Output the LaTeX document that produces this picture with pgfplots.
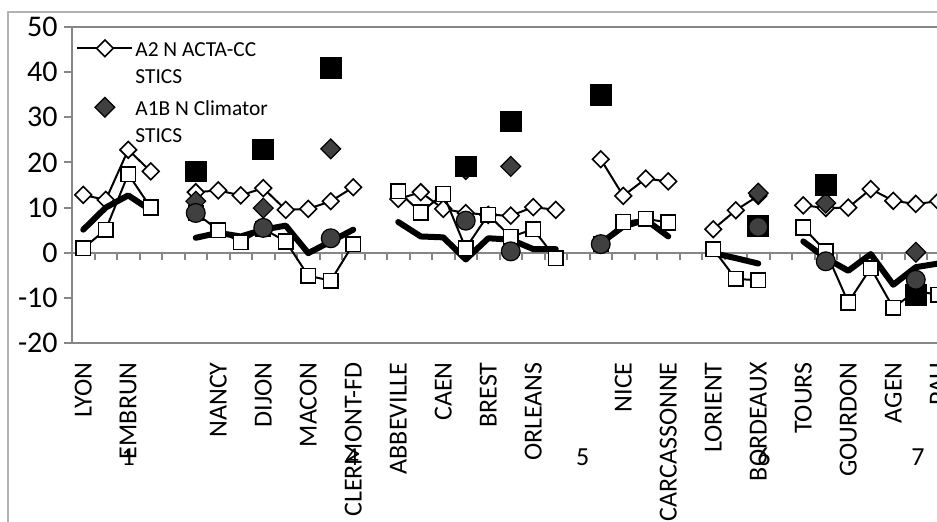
\documentclass[border=0pt]{standalone}
\usepackage{fontspec}
\setmainfont{Carlito}
\usepackage{pgfplots}
\pgfplotsset{compat=1.18}
\definecolor{axisgray}{HTML}{868686}
\definecolor{darkfill}{HTML}{404040}

\pgfplotsset{
  sA/.style={black, line width=1pt, mark=square*, mark size=2.95pt,
    mark options={solid, rotate=45, fill=white, draw=black, line width=0.8pt}},
  sThick/.style={black, line width=3pt, line join=round, line cap=round, mark=none},
  sSq/.style={black, line width=1pt, mark=square*, mark size=3.67pt,
    mark options={solid, fill=white, draw=black, line width=0.8pt}},
  frame/.style={at={(0pt,0pt)}, anchor=south west, scale only axis, width=450pt, height=158pt,
    xmin=-0.5, xmax=39.5, ymin=-20, ymax=50},
}
\newcommand{\yl}[1]{\fontsize{15}{17}\selectfont #1}

\begin{document}
\begin{tikzpicture}
% zero line with tick marks between categories
\begin{axis}[frame,
  axis x line=middle, axis y line=none,
  axis line style={axisgray, line width=1pt, -},
  xtick={0.5,1.5,...,38.5}, xticklabels={},
  tick align=outside, major tick length=3.8pt,
  xtick style={axisgray, line width=1pt},
]
\end{axis}
\begin{axis}[frame,
  name=ax,
  axis line style={axisgray, line width=1pt},
  clip mode=individual,
  ytick={-20,-10,...,50},
  yticklabels={\yl{-20},\yl{-10},\yl{0},\yl{10},\yl{20},\yl{30},\yl{40},\yl{50}},
  ytick style={axisgray, line width=1pt},
  tick align=outside, major tick length=4pt,
  yticklabel style={anchor=east, inner sep=0pt, xshift=-3pt},
  xtick={0,2,...,38},
  xticklabels={LYON,EMBRUN,,NANCY,DIJON,MACON,CLERMONT-FD,ABBEVILLE,CAEN,BREST,ORLEANS,,NICE,CARCASSONNE,LORIENT,BORDEAUX,TOURS,GOURDON,AGEN,PAU},
  xtick style={draw=none},
  xticklabel style={font=\fontsize{13}{15}\selectfont, yshift=-5.5pt, rotate=90, anchor=east, inner sep=0pt},
  ytick pos=left, xtick pos=bottom,
  legend cell align=left,
  legend style={draw=none, fill=none, at={(0,1)}, anchor=north west, xshift=2pt, yshift=-4pt,
    font=\fontsize{10.7}{13.5}\selectfont, row sep=16.5pt, inner sep=0pt, nodes={inner sep=1pt}},
  legend image code/.code={\draw[mark repeat=2,mark phase=2,#1] plot coordinates {(0pt,0pt) (13.75pt,0pt) (27.5pt,0pt)};},
]
% A2 N ACTA-CC STICS
\addplot[sA] coordinates {(0,12.8)(1,11.7)(2,22.8)(3,18.0)};
\addlegendentry{\begin{tabular}[t]{@{}l@{}}A2 N ACTA-CC\\STICS\end{tabular}}
\addplot[sA, forget plot] coordinates {(5,13.4)(6,13.8)(7,12.7)(8,14.3)(9,9.5)(10,9.7)(11,11.4)(12,14.5)};
\addplot[sA, forget plot] coordinates {(14,11.9)(15,13.4)(16,9.7)(17,8.8)(18,8.4)(19,8.2)(20,10.1)(21,9.5)};
\addplot[sA, forget plot] coordinates {(23,20.7)(24,12.6)(25,16.4)(26,15.8)};
\addplot[sA, forget plot] coordinates {(28,5.2)(29,9.4)(30,12.6)};
\addplot[sA, forget plot] coordinates {(32,10.5)(33,9.9)(34,10.0)(35,14.1)(36,11.5)(37,10.8)(38,11.4)};

% A1B N Climator STICS
\addplot[only marks, mark=square*, mark size=3.5pt,
  mark options={rotate=45, fill=darkfill, draw=black, line width=0.6pt}] coordinates {
(5,11.4)(8,9.9)(11,23.0)(17,18.4)(19,19.1)(30,13.2)(33,11.0)(37,0.1)};
\addlegendentry{\begin{tabular}[t]{@{}l@{}}A1B N Climator\\STICS\end{tabular}}

% thick line
\addplot[sThick, forget plot] coordinates {(0,5.1)(1,10.0)(2,12.7)(3,9.4)};
\addplot[sThick, forget plot] coordinates {(5,3.3)(6,4.4)(7,3.6)(8,5.1)(9,6.0)(10,-0.1)(11,2.5)(12,5.1)};
\addplot[sThick, forget plot] coordinates {(14,6.8)(15,3.6)(16,3.4)(17,-1.5)(18,3.2)(19,2.9)(20,0.8)(21,0.8)};
\addplot[sThick, forget plot] coordinates {(23,2.1)(24,5.8)(25,7.3)(26,3.6)};
\addplot[sThick, forget plot] coordinates {(28,-0.1)(29,-1.2)(30,-2.4)};
\addplot[sThick, forget plot] coordinates {(32,2.5)(33,-1.2)(34,-4.0)(35,-0.3)(36,-7.1)(37,-3.2)(38,-2.4)};

% open squares
\addplot[sSq, forget plot] coordinates {(0,1.0)(1,5.1)(2,17.4)(3,10.0)};
\addplot[sSq, forget plot] coordinates {(5,8.8)(6,5.0)(7,2.3)(8,5.3)(9,2.5)(10,-5.1)(11,-6.2)(12,1.9)};
\addplot[sSq, forget plot] coordinates {(14,13.6)(15,8.9)(16,13.0)(17,1.0)(18,8.4)(19,3.5)(20,5.2)(21,-1.2)};
\addplot[sSq, forget plot] coordinates {(23,2.0)(24,6.8)(25,7.5)(26,6.7)};
\addplot[sSq, forget plot] coordinates {(28,0.8)(29,-5.8)(30,-6.1)};
\addplot[sSq, forget plot] coordinates {(32,5.6)(33,0.3)(34,-11.0)(35,-3.4)(36,-12.2)(37,-8.5)(38,-9.3)};

% black squares
\addplot[only marks, forget plot, mark=square*, mark size=5.2pt, mark options={fill=black, draw=black}] coordinates {
(5,18.0)(8,22.9)(11,41.0)(17,19.1)(19,29.1)(23,35.0)(30,6.0)(33,15.0)(37,-9.3)};

% circles
\addplot[only marks, forget plot, mark=*, mark size=4.7pt, mark options={fill=darkfill, draw=black, line width=0.6pt}] coordinates {
(5,8.8)(8,5.5)(11,3.2)(17,7.1)(19,0.3)(23,1.9)(30,5.7)(33,-1.9)(37,-6.0)};

% group labels
\node[font=\fontsize{13}{15}\selectfont, yshift=-57pt] at (axis cs:2,-20) {1};
\node[font=\fontsize{13}{15}\selectfont, yshift=-57pt] at (axis cs:11.95,-20) {4};
\node[font=\fontsize{13}{15}\selectfont, yshift=-57pt] at (axis cs:22.2,-20) {5};
\node[font=\fontsize{13}{15}\selectfont, yshift=-57pt] at (axis cs:30.25,-20) {6};
\node[font=\fontsize{13}{15}\selectfont, yshift=-57pt] at (axis cs:37.1,-20) {7};
\end{axis}
\draw[gray!60, line width=0.8pt] (-32pt,-120pt) -- (-32pt,165.5pt) -- (520pt,165.5pt);
\pgfresetboundingbox
\useasboundingbox (-36pt,-89.5pt) rectangle (432.5pt,171.5pt);
\end{tikzpicture}
\end{document}
